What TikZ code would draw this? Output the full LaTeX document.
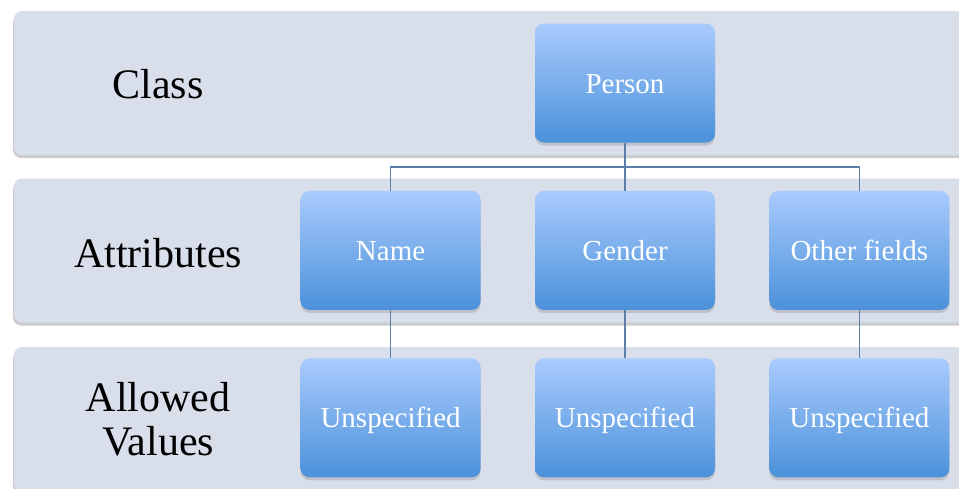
\documentclass[tikz,border=0pt]{standalone}
\usepackage{fontspec}
\setmainfont{Liberation Serif}
\usetikzlibrary{positioning,calc,shadows}
\definecolor{bandgray}{HTML}{D9DEEB}
\definecolor{boxtop}{HTML}{A9CBFD}
\definecolor{boxbottom}{HTML}{4B91DA}
\definecolor{linkblue}{HTML}{5B7FA8}
\tikzset{main base/.style={text centered, }, }
\tikzset{band/.style={rectangle,rounded corners=8pt,fill=bandgray,
    minimum width=980pt,minimum height=144pt,
    drop shadow={shadow xshift=-1pt,shadow yshift=-3pt,opacity=0.4}}, }
\tikzset{main node/.style={rectangle,rounded corners=9pt,main base,
    top color=boxtop,bottom color=boxbottom,text=white,
    font=\fontsize{29}{31}\selectfont,text height=20pt,text depth=0pt,
    minimum width=180pt,minimum height=119pt,
    drop shadow={shadow xshift=0pt,shadow yshift=-3pt,opacity=0.3}}, }
\tikzset{level label/.style={main base,align=center,
    font=\fontsize{42}{44}\selectfont}, }
\tikzset{linea/.style={draw=linkblue,line width=1.6pt}}

\begin{document}
\begin{tikzpicture}[x=1pt,y=-1pt,node distance=48pt and 54pt]
  \useasboundingbox (0,0) rectangle (959,488);
  \clip (0,0) rectangle (959,488);
  % bands
  \node[band] (classband) at (504,83) {};
  \node[band] (attrband) at (504,250.5) {};
  \node[band] (valueband) at (504,419) {};
  \node[level label,text height=30pt,text depth=0pt] (class) at (158,83) {Class};
  \node[level label,text height=30pt,text depth=0pt] (attributes) at (158,252) {Attributes};
  \node[level label] (allowed) at (158,419) {Allowed\\Values};
  % boxes
  \node[main node] (person) at (625,83) {Person};
  \node[main node] (gender) [below =of person] {Gender};
  \node[main node] (name) [left =of gender] {Name};
  \node[main node] (other) [right =of gender] {Other fields};
  \node[main node] (value2) [below =of gender] {Unspecified};
  \node[main node] (value1) [below =of name] {Unspecified};
  \node[main node] (value3) [below =of other] {Unspecified};
  \coordinate (hub) at ($(person.south)!0.5!(gender.north)$);
  \draw[linea] (person.south) -- (gender.north);
  \draw[linea] (name.north) |- (hub) -| (other.north);
  \foreach \x /\y in {name/value1,gender/value2,other/value3}
    \path[linea] (\x) edge node {} (\y);
\end{tikzpicture}
\end{document}
